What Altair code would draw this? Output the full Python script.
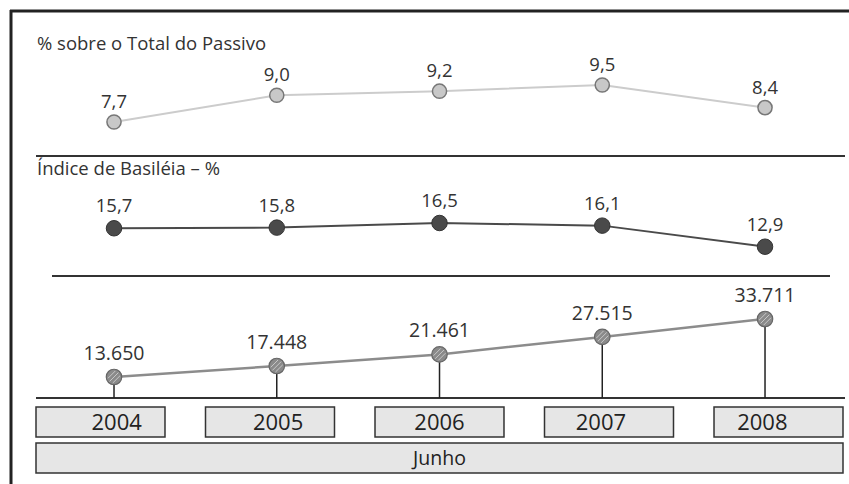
import altair as alt
import pandas as pd

years = [2004, 2005, 2006, 2007, 2008]
year_labels = ["2004", "2005", "2006", "2007", "2008"]
passivo = [7.7, 9.0, 9.2, 9.5, 8.4]
basileia = [15.7, 15.8, 16.5, 16.1, 12.9]
valores = [13650, 17448, 21461, 27515, 33711]
periodo = "Junho"
titulo_passivo = "% sobre o Total do Passivo"
titulo_basileia = "Índice de Basiléia – %"

FONT = "Open Sans"

df = pd.DataFrame({
    "ano": years,
    "ano_lbl": year_labels,
    "passivo": passivo,
    "basileia": basileia,
    "valor": valores,
})
df["passivo_lbl"] = [f"{v:.1f}".replace(".", ",") for v in passivo]
df["basileia_lbl"] = [f"{v:.1f}".replace(".", ",") for v in basileia]
df["valor_lbl"] = [f"{v:,}".replace(",", ".") for v in valores]

base = alt.Chart(df)
one = alt.Chart(pd.DataFrame({"t": [periodo]}))
t_pass = alt.Chart(pd.DataFrame({"t": [titulo_passivo]}))
t_bas = alt.Chart(pd.DataFrame({"t": [titulo_basileia]}))

xs = alt.Scale(domain=[2003.2995, 2008.516], nice=False, zero=False)
X = alt.X("ano:Q", scale=xs, axis=None)

def yscale(field, dom, rng):
    return alt.Y(f"{field}:Q", scale=alt.Scale(domain=dom, range=rng, nice=False, zero=False), axis=None)

Yp = yscale("passivo", [7.7, 9.5], [122, 85])
Yb = yscale("basileia", [12.9, 16.5], [246.7, 223])
Yv = yscale("valor", [13650, 33711], [377, 319])

layers = []

# frame
layers.append(one.mark_rule(color="#222", strokeWidth=3).encode(
    x=alt.value(10), x2=alt.value(849), y=alt.value(11)))
layers.append(one.mark_rule(color="#222", strokeWidth=3).encode(
    x=alt.value(11), y=alt.value(10), y2=alt.value(484)))
layers.append(one.mark_rule(color="#333", strokeWidth=2).encode(
    x=alt.value(36), x2=alt.value(845), y=alt.value(156)))
layers.append(one.mark_rule(color="#333", strokeWidth=2).encode(
    x=alt.value(52), x2=alt.value(830), y=alt.value(276)))
layers.append(one.mark_rule(color="#333", strokeWidth=2).encode(
    x=alt.value(36), x2=alt.value(845), y=alt.value(398)))

# titles
layers.append(t_pass.mark_text(font=FONT, fontSize=18.5, align="left",
                               baseline="alphabetic", color="#333").encode(
    x=alt.value(37), y=alt.value(50), text="t:N"))
layers.append(t_bas.mark_text(font=FONT, fontSize=18.5, align="left",
                              baseline="alphabetic", color="#333").encode(
    x=alt.value(37), y=alt.value(175), text="t:N"))

# top series
layers.append(base.mark_line(color="#cccccc", strokeWidth=2).encode(x=X, y=Yp))
layers.append(base.mark_point(filled=True, fill="#c8c8c8", stroke="#777", strokeWidth=1.5,
                              size=200, opacity=1).encode(x=X, y=Yp))
layers.append(base.mark_text(font=FONT, fontSize=18.5, dy=-14, baseline="alphabetic",
                             color="#333").encode(x=X, y=Yp, text="passivo_lbl:N"))

# middle series
layers.append(base.mark_line(color="#4a4a4a", strokeWidth=2).encode(x=X, y=Yb))
layers.append(base.mark_point(filled=True, fill="#4a4a4a", stroke="#333", strokeWidth=1,
                              size=240, opacity=1).encode(x=X, y=Yb))
layers.append(base.mark_text(font=FONT, fontSize=18.5, dy=-16, baseline="alphabetic",
                             color="#333").encode(x=X, y=Yb, text="basileia_lbl:N"))

# bottom series
layers.append(base.mark_rule(color="#222", strokeWidth=1.5).encode(x=X, y=Yv, y2=alt.value(398)))
layers.append(base.mark_line(color="#8c8c8c", strokeWidth=2.5).encode(x=X, y=Yv))
layers.append(base.mark_point(filled=True, fill="#8a8a8a", stroke="#666", strokeWidth=1.2,
                              size=240, opacity=1).encode(x=X, y=Yv))
layers.append(base.mark_point(filled=False, shape="M-0.7,0.7L0.7,-0.7M-0.95,0.2L0.2,-0.95M-0.2,0.95L0.95,-0.2",
                              stroke="#c8c8c8", strokeWidth=1, size=160, opacity=1).encode(x=X, y=Yv))
layers.append(base.mark_text(font=FONT, fontSize=19.5, dy=-17, baseline="alphabetic",
                             color="#333").encode(x=X, y=Yv, text="valor_lbl:N"))

# year boxes
XB = alt.X("ano_lbl:O", scale=alt.Scale(range=[36, 843], paddingInner=0.239, paddingOuter=0), axis=None)
layers.append(base.mark_rect(fill="#e6e6e6", stroke="#333", strokeWidth=1.5).encode(
    x=XB, y=alt.value(407), y2=alt.value(437)))
layers.append(base.mark_text(font=FONT, fontSize=22, baseline="alphabetic", color="#222").encode(
    x=XB, y=alt.value(430), text="ano_lbl:N"))

# Junho box
layers.append(one.mark_rect(fill="#e6e6e6", stroke="#333", strokeWidth=1.5).encode(
    x=alt.value(36), x2=alt.value(843), y=alt.value(443), y2=alt.value(473)))
layers.append(one.mark_text(font=FONT, fontSize=19.5, baseline="alphabetic",
                            color="#222").encode(x=alt.value(439.5), y=alt.value(465), text="t:N"))

chart = alt.layer(*layers).resolve_scale(x="independent", y="independent").properties(
    width=849, height=484, padding=0, autosize=alt.AutoSizeParams(type="none"),
    background="white"
).configure_view(stroke=None)

chart.save("out.html", embed_options={"renderer": "svg", "actions": False})
